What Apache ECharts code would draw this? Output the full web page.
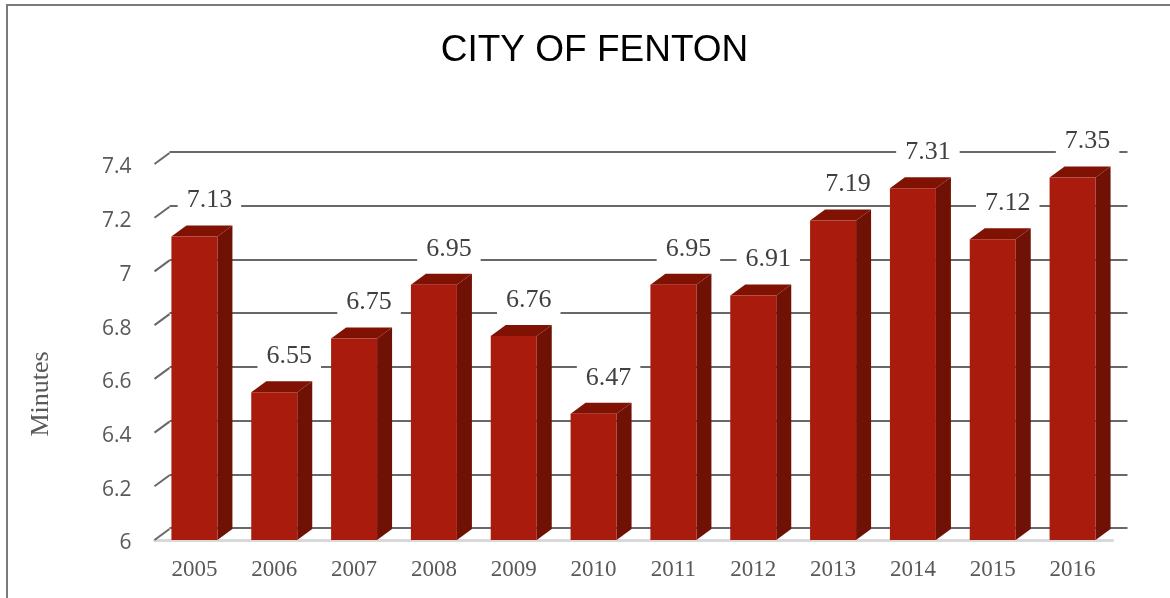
<!DOCTYPE html>
<html>
<head>
<meta charset="utf-8">
<style>
    html, body { margin: 0; padding: 0; background: #fff; }
    #chart { width: 1170px; height: 598px; }
</style>
<script src="https://cdn.jsdelivr.net/npm/echarts@6/dist/echarts.min.js"></script>
</head>
<body>
<div id="chart"></div>
<script>
let years = ['2005', '2006', '2007', '2008', '2009', '2010', '2011', '2012', '2013', '2014', '2015', '2016'];
let minutes = [7.13, 6.55, 6.75, 6.95, 6.76, 6.47, 6.95, 6.91, 7.19, 7.31, 7.12, 7.35];
let yTicks = [6, 6.2, 6.4, 6.6, 6.8, 7, 7.2, 7.4];

// offset of the back wall from the front plane, in pixels
let depthX = 15;
let depthY = 11;
let barW = 46;
let gridColor = '#686868';

// slanted piece of each gridline, from the axis back to the wall
function renderSlant(params, api) {
    let y = api.coord([0, api.value(0)])[1];
    let x = params.coordSys.x;
    return {
        type: 'line',
        shape: {x1: x, y1: y, x2: x + depthX, y2: y - depthY},
        style: {stroke: gridColor, lineWidth: 2}
    };
}

function renderBar(params, api) {
    let top = api.coord([api.value(0), api.value(1)]);
    let bottom = api.coord([api.value(0), 6]);
    let l = top[0] - barW / 2;
    let r = top[0] + barW / 2;
    return {
        type: 'group',
        children: [
            {
                type: 'polygon',
                shape: {points: [[r, top[1]], [r + depthX, top[1] - depthY], [r + depthX, bottom[1] - depthY], [r, bottom[1]]]},
                style: {fill: '#6f1105'}
            },
            {
                type: 'polygon',
                shape: {points: [[l, top[1]], [l + depthX, top[1] - depthY], [r + depthX, top[1] - depthY], [r, top[1]]]},
                style: {fill: '#801204'}
            },
            {
                type: 'rect',
                shape: {x: l, y: top[1], width: barW, height: bottom[1] - top[1]},
                style: {fill: '#a91b0c'}
            }
        ]
    };
}

function renderLabel(params, api) {
    let top = api.coord([api.value(0), api.value(1)]);
    return {
        type: 'text',
        style: {
            text: String(api.value(1)),
            x: top[0] + depthX,
            y: top[1] - depthY - 25,
            align: 'center',
            verticalAlign: 'middle',
            font: '26px "Liberation Serif"',
            fill: '#404040',
            backgroundColor: '#fff',
            padding: [3, 9]
        }
    };
}

let myChart = echarts.init(document.getElementById('chart'), null, {renderer: 'canvas'});
myChart.setOption({
    animation: false,
    backgroundColor: '#fff',
    title: {
        text: 'CITY OF FENTON',
        left: 589.5,
        top: 27,
        textAlign: 'center',
        textStyle: {fontFamily: 'Liberation Sans', fontSize: 37, fontWeight: 'normal', color: '#000'}
    },
    grid: [
        {left: 154.5, top: 164, width: 958, height: 376},
        {left: 169.5, top: 152, width: 958, height: 376}
    ],
    xAxis: [
        {
            type: 'category',
            gridIndex: 0,
            data: years,
            axisLine: {lineStyle: {color: '#d9d9d9', width: 3}},
            axisTick: {show: false},
            axisLabel: {margin: 18, fontFamily: 'Liberation Serif', fontSize: 23, color: '#595959'}
        },
        {
            type: 'category',
            gridIndex: 1,
            data: years,
            axisLine: {show: false},
            axisTick: {show: false},
            axisLabel: {show: false}
        }
    ],
    yAxis: [
        {
            type: 'value',
            gridIndex: 0,
            min: 6,
            max: 7.4,
            interval: 0.2,
            axisLine: {show: false},
            axisTick: {show: false},
            splitLine: {show: false},
            axisLabel: {
                margin: 23,
                formatter: '{t|{value}}',
                rich: {
                    t: {padding: [7, 0, 0, 0], fontFamily: 'Open Sans', fontSize: 21, color: '#595959'}
                }
            }
        },
        {
            type: 'value',
            gridIndex: 1,
            min: 6,
            max: 7.4,
            interval: 0.2,
            axisLine: {show: false},
            axisTick: {show: false},
            axisLabel: {show: false},
            splitLine: {show: true, lineStyle: {color: gridColor, width: 2}}
        }
    ],
    series: [
        {
            type: 'custom',
            xAxisIndex: 0,
            yAxisIndex: 0,
            z: 2,
            renderItem: renderSlant,
            encode: {y: 0},
            data: yTicks.map(function (v) { return [v]; })
        },
        {
            type: 'custom',
            xAxisIndex: 0,
            yAxisIndex: 0,
            z: 3,
            renderItem: renderBar,
            encode: {x: 0, y: 1},
            data: years.map(function (y, i) { return [i, minutes[i]]; })
        },
        {
            type: 'custom',
            xAxisIndex: 0,
            yAxisIndex: 0,
            z: 4,
            renderItem: renderLabel,
            encode: {x: 0, y: 1},
            data: years.map(function (y, i) { return [i, minutes[i]]; })
        }
    ],
    graphic: [
        {
            type: 'rect',
            silent: true,
            shape: {x: 7, y: 5, width: 1300, height: 800},
            style: {fill: 'none', stroke: '#7a7a7a', lineWidth: 2}
        },
        {
            type: 'text',
            silent: true,
            x: 41,
            y: 394,
            rotation: Math.PI / 2,
            style: {
                text: 'Minutes',
                align: 'center',
                verticalAlign: 'middle',
                font: '26px "Liberation Serif"',
                fill: '#595959'
            }
        }
    ]
});
window.onresize = function () {
    myChart.resize();
};
</script>
</body>
</html>
